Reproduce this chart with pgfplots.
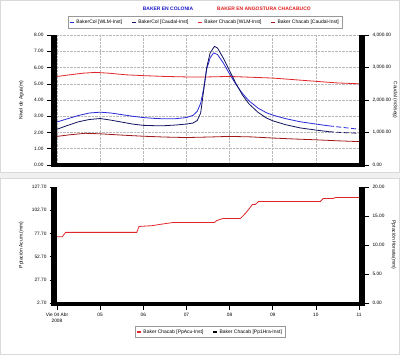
\documentclass[border=0pt]{standalone}
\usepackage{pgfplots}
\pgfplotsset{compat=1.18}
\usepackage{fontspec}
\setmainfont{Liberation Sans}
\definecolor{lvlblue}{HTML}{2A2AD8}
\definecolor{qblue}{HTML}{141460}
\definecolor{lvlred}{HTML}{E0262A}
\definecolor{qred}{HTML}{A01818}
\definecolor{ttlblue}{HTML}{1A1AC8}
\definecolor{ttlred}{HTML}{E01E1E}
\pgfplotsset{
  chart/.style={
    scale only axis, width=302bp, xmin=0, xmax=7,
    axis line style={draw=none},
    tick style={black, line width=0.5bp},
    major tick length=10bp, tick align=outside,
    font=\fontsize{4.8}{5.5}\selectfont,
    /pgf/number format/assume math mode=true,
    yticklabel style={/pgf/number format/.cd, fixed, fixed zerofill, precision=2, 1000 sep={,}},
    legend image code/.code={\draw[line width=1.1bp] (0bp,0bp) -- (4bp,0bp);},
    legend style={draw=gray!80, line width=0.5bp, font=\fontsize{5}{6}\selectfont, inner sep=1.2bp,
      /tikz/every even column/.append style={column sep=7bp}},
  },
  ylab/.style={every axis y label/.style={at={(axis description cs:#1,0.5)}, anchor=center, rotate=90, font=\fontsize{5}{6}\selectfont}},
  ylabr/.style={every axis y label/.style={at={(axis description cs:#1,0.5)}, anchor=center, rotate=-90, font=\fontsize{5}{6}\selectfont}},
}
\begin{document}
\begin{tikzpicture}[x=1bp,y=1bp]
\useasboundingbox (0,0) rectangle (400,355);
\fill[white] (0,0) rectangle (400,355);
\draw[gray!30, line width=1bp] (0.5,0.5) rectangle (399.5,354.5);
\fill[gray!12] (0,177) rectangle (400,183);
\draw[gray!30, line width=0.6bp] (0,177) -- (400,177) (0,183) -- (400,183);

\node[text=ttlblue, font=\bfseries\fontsize{5}{6}\selectfont] at (168,346) {BAKER EN COLONIA};
\node[text=ttlred, font=\bfseries\fontsize{5}{6}\selectfont] at (264,346) {BAKER EN ANGOSTURA CHACABUCO};

% ---------------- top panel, left axis: levels
\begin{axis}[chart, at={(57bp,190bp)}, anchor=south west, height=130bp,
  ymin=0, ymax=8, ytick={0,1,...,8}, ytick pos=left, xtick pos=bottom,
  xtick={0,1,...,7}, xticklabels={}, xtick style={draw=none},
  xmajorgrids, ymajorgrids, grid style={densely dotted, gray!55, line width=0.5bp},
  ylab=-0.118, ylabel={Nivel de Agua(m)}]
\addplot[lvlblue, line width=0.8bp] coordinates {
(0,2.65) (0.25,2.85) (0.5,3.05) (0.75,3.2) (1.0,3.25) (1.25,3.2) (1.5,3.1) (1.75,3.0)
(2.0,2.92) (2.25,2.87) (2.5,2.84) (2.75,2.85) (3.0,2.92) (3.15,3.05) (3.25,3.3) (3.33,3.8)
(3.4,4.7) (3.47,5.9) (3.55,6.6) (3.63,6.9) (3.72,6.8) (3.85,6.3) (4.0,5.6) (4.15,4.95)
(4.3,4.4) (4.45,3.95) (4.66,3.5) (4.85,3.22) (5.0,3.07) (5.3,2.85) (5.64,2.66) (6.0,2.52) (6.3,2.41)};
\addplot[lvlblue, line width=0.8bp, dash pattern=on 5bp off 2.5bp] coordinates {
(6.3,2.41) (6.6,2.32) (7.0,2.2)};
\addplot[lvlred, line width=0.8bp] coordinates {
(0,5.45) (0.3,5.55) (0.6,5.65) (0.9,5.7) (1.2,5.65) (1.6,5.55) (2.0,5.5) (2.5,5.45)
(3.0,5.42) (3.5,5.42) (4.0,5.45) (4.5,5.4) (5.0,5.35) (5.5,5.25) (6.0,5.15) (6.5,5.05) (7.0,5.0)};
\end{axis}

% ---------------- top panel, right axis: discharge
\begin{axis}[chart, at={(57bp,190bp)}, anchor=south west, height=130bp,
  ymin=0, ymax=4000, ytick={0,1000,...,4000},
  axis y line*=right, tick align=outside, axis x line=none,
  ylabr=1.12, ylabel={Caudal (m3/seg)},
  legend columns=4, legend style={at={(0.49,1.098)}, anchor=center}]
\addlegendimage{lvlblue, line width=1.1bp}
\addlegendentry{BakerCol [WLM-Inst]}
\addplot[qblue, line width=0.8bp] coordinates {
(0,1100) (0.25,1220) (0.5,1330) (0.75,1400) (1.0,1430) (1.25,1380) (1.5,1320) (1.75,1260)
(2.0,1220) (2.25,1210) (2.5,1210) (2.75,1230) (3.0,1260) (3.15,1290) (3.25,1370) (3.33,1600)
(3.4,2300) (3.47,3000) (3.55,3450) (3.65,3650) (3.72,3600) (3.85,3300) (4.0,2900) (4.15,2500)
(4.3,2150) (4.45,1880) (4.66,1620) (4.85,1450) (5.0,1360) (5.3,1240) (5.64,1140) (6.0,1075) (6.3,1025)};
\addlegendentry{BakerCol [Caudal-Inst]}
\addplot[qblue, line width=0.8bp, dash pattern=on 5bp off 2.5bp, forget plot] coordinates {
(6.3,1025) (6.6,1000) (7.0,975)};
\addlegendimage{lvlred, line width=1.1bp}
\addlegendentry{Baker Chacab [WLM-Inst]}
\addplot[qred, line width=0.8bp] coordinates {
(0,880) (0.3,930) (0.65,975) (1.0,960) (1.5,920) (2.0,885) (2.5,860) (3.0,845)
(3.5,860) (4.0,880) (4.5,865) (5.0,830) (5.5,800) (6.0,775) (6.5,745) (7.0,720)};
\addlegendentry{Baker Chacab [Caudal-Inst]}
\end{axis}

% ---------------- bottom panel, left axis: accumulated precipitation
\begin{axis}[chart, at={(57bp,52bp)}, anchor=south west, height=116bp,
  ymin=2.7, ymax=127.7, ytick={2.7,27.7,52.7,77.7,102.7,127.7},
  ytick pos=left, xtick pos=bottom,
  xtick={0,1,...,7}, xticklabels={{Vie 04 Abr\\2008},05,06,07,08,09,10,11},
  xticklabel style={align=center}, major tick length=7bp,
  ylab=-0.118, ylabel={Pptación Acum.(mm)}]
\addplot[lvlred, line width=0.8bp] coordinates {
(0,74) (0.12,74) (0.2,78.8) (1.85,78.8) (1.9,85.2) (2.2,86) (2.4,87.5) (2.55,88.5) (2.7,89.5)
(3.65,89.5) (3.7,91.5) (3.85,93.8) (4.25,93.8) (4.3,96) (4.38,100) (4.45,104) (4.53,108.9)
(4.6,109) (4.67,112) (6.1,112) (6.17,115.3) (6.4,115.3) (6.45,116.3) (7,116.3)};
\end{axis}

% ---------------- bottom panel, right axis: hourly precipitation
\begin{axis}[chart, at={(57bp,52bp)}, anchor=south west, height=116bp,
  ymin=0, ymax=20, ytick={0,5,...,20},
  axis y line*=right, tick align=outside, axis x line=none,
  ylabr=1.115, ylabel={Pptación Horaria(mm)},
  legend columns=2, legend style={at={(0.507,-0.25)}, anchor=center}]
\addlegendimage{lvlred, line width=1.1bp}
\addlegendentry{Baker Chacab [PpAcu-Inst]}
\addplot[black, line width=0.8bp] coordinates {(0,0) (7,0)};
\addlegendentry{Baker Chacab [Pp1Hra-Inst]}
\end{axis}

% thick axis bars
\fill[black] (51,188) rectangle (57,320);
\fill[black] (359,188) rectangle (365,320);
\fill[black] (57,188) rectangle (359,191.5);
\fill[black] (51,49) rectangle (57,168);
\fill[black] (359,49) rectangle (365,168);
\fill[black] (57,49) rectangle (359,52.5);
\end{tikzpicture}
\end{document}
